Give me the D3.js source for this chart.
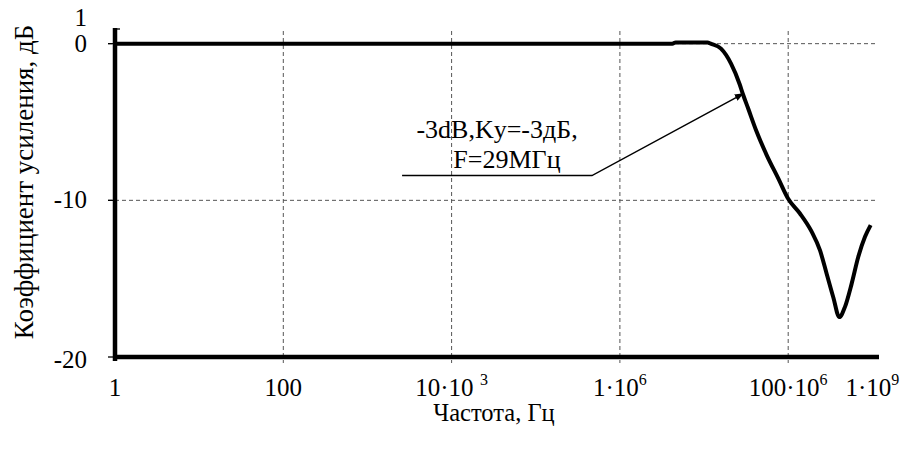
<!DOCTYPE html>
<html><head><meta charset="utf-8">
<script src="https://cdn.jsdelivr.net/npm/d3@7"></script>
<style>body{margin:0;background:#fff}</style>
</head><body>
<svg id="chart" width="919" height="454"></svg>
<script>
// ---- data ----
const freq = [1, 10, 1e3, 1e5, 1e6, 4.2e6, 4.6e6, 1.1e7, 1.2e7, 1.59e7, 2.1e7, 2.65e7, 2.9e7, 3.33e7, 4.21e7, 5.55e7, 7.67e7, 1.0e8, 1.38e8, 1.9e8, 2.39e8, 2.87e8, 3.44e8, 4.05e8, 4.73e8, 5.69e8, 6.81e8, 8.18e8, 9.55e8];
const gain = [0, 0, 0, 0, 0, 0, 0.08, 0.08, 0, -0.32, -1.29, -2.59, -3.23, -4.11, -5.61, -7.11, -8.63, -9.9, -10.84, -12.0, -13.2, -14.7, -16.2, -17.45, -16.8, -15.3, -13.6, -12.33, -11.58];
const xDomain = [1, 1.2e9];
const yDomain = [-20, 1];
const xTicks = [1, 100, 1e4, 1e6, 1e8, 1e9];
const xTickMain = ["1", "100", "10·10 ", "1·10", "100·10", "1·10"];
const xTickSup = ["", "", "3", "6", "6", "9"];
const xGrid = [100, 1e4, 1e6, 1e8];
const yTicks = [1, 0, -10, -20];
const yTickLabels = ["1", "0", "-10", "-20"];
const yGrid = [0, -10];
const xTitle = "Частота, Гц";
const yTitle = "Коэффициент усиления, дБ";
const noteLines = ["-3dB,Ky=-3дБ,", "F=29МГц"];
const noteTextPos = [[3.47e4, -6.04], [4.55e4, -7.96]];
const noteLeader = [[2.58e3, -8.42], [4.66e5, -8.42], [2.9e7, -3.2]];

// ---- chart ----
const svg = d3.select("#chart");
const x = d3.scaleLog().domain(xDomain).range([115, 879]);
const y = d3.scaleLinear().domain(yDomain).range([357, 28]);

function txt(sel) {
  return sel.append("text").attr("font-family", "Liberation Serif").style("font-family", "'Liberation Serif'").attr("fill", "#000");
}

const grid = svg.append("g").attr("stroke", "#555").attr("stroke-width", 1).attr("stroke-dasharray", "4,3").attr("fill", "none");
grid.selectAll(".vg").data(xGrid).join("line")
  .attr("x1", d => x(d)).attr("x2", d => x(d))
  .attr("y1", y(yDomain[1]) + 3).attr("y2", y(yDomain[0]) + 6);
grid.selectAll(".hg").data(yGrid).join("line")
  .attr("x1", x(xDomain[0]) - 7).attr("x2", x(xDomain[1]) - 4)
  .attr("y1", d => y(d)).attr("y2", d => y(d));

// ticks
const tk = svg.append("g").attr("stroke", "#000").attr("stroke-width", 1.3);
tk.selectAll(".yt").data(yTicks.slice(1)).join("line")
  .attr("x1", x(xDomain[0]) - 7).attr("x2", x(xDomain[0]))
  .attr("y1", d => y(d)).attr("y2", d => y(d));
tk.append("line").attr("x1", x(xDomain[0])).attr("x2", x(xDomain[0]) + 5)
  .attr("y1", y(yDomain[1]) + 1).attr("y2", y(yDomain[1]) + 1);

// axes lines
const ax = svg.append("g").attr("stroke", "#000").attr("stroke-width", 4.5).attr("fill", "none");
ax.append("line").attr("x1", x(xDomain[0])).attr("x2", x(xDomain[0]))
  .attr("y1", y(yDomain[1])).attr("y2", y(yDomain[0]) + 4);
ax.append("line").attr("x1", x(xDomain[0]) - 2).attr("x2", x(xDomain[1]))
  .attr("y1", y(yDomain[0])).attr("y2", y(yDomain[0]));

// curve
const pts = freq.map((f, i) => [f, gain[i]]);
svg.append("path").datum(pts)
  .attr("fill", "none").attr("stroke", "#000").attr("stroke-width", 4).attr("stroke-linejoin", "round")
  .attr("d", d3.line().x(d => x(d[0])).y(d => y(d[1])).curve(d3.curveMonotoneX));

// annotation leader with arrow
svg.append("defs").append("marker").attr("id", "arr")
  .attr("viewBox", "0 0 10 10").attr("refX", 9).attr("refY", 5)
  .attr("markerWidth", 9).attr("markerHeight", 9).attr("markerUnits", "userSpaceOnUse")
  .attr("orient", "auto")
  .append("path").attr("d", "M0,1 L10,5 L0,9 Z").attr("fill", "#000");
svg.append("path").datum(noteLeader)
  .attr("fill", "none").attr("stroke", "#000").attr("stroke-width", 1.5)
  .attr("marker-end", "url(#arr)")
  .attr("d", d3.line().x(d => x(d[0])).y(d => y(d[1])));
noteLines.forEach((line, i) => {
  txt(svg).attr("x", x(noteTextPos[i][0])).attr("y", y(noteTextPos[i][1]))
    .attr("text-anchor", "middle").attr("font-size", 26).text(line);
});

// y tick labels
yTicks.forEach((v, i) => {
  txt(svg).attr("x", 87)
    .attr("y", y(v) + (i === 0 ? -2 : (i === yTicks.length - 1 ? 11 : 8)))
    .attr("text-anchor", "end").attr("font-size", 25).text(yTickLabels[i]);
});

// x tick labels
xTicks.forEach((v, i) => {
  const t = txt(svg).attr("x", x(v)).attr("y", 396).attr("text-anchor", "middle").attr("font-size", 25);
  t.append("tspan").text(xTickMain[i]);
  if (xTickSup[i]) t.append("tspan").attr("font-size", 16).attr("dy", -11).text(xTickSup[i]);
});

// axis titles
txt(svg).attr("x", (x.range()[0] + x.range()[1]) / 2 - 3).attr("y", 421)
  .attr("text-anchor", "middle").attr("font-size", 24.5).text(xTitle);
txt(svg).attr("transform", "translate(33,182) rotate(-90)")
  .attr("text-anchor", "middle").attr("font-size", 27).text(yTitle);
</script>
</body></html>
